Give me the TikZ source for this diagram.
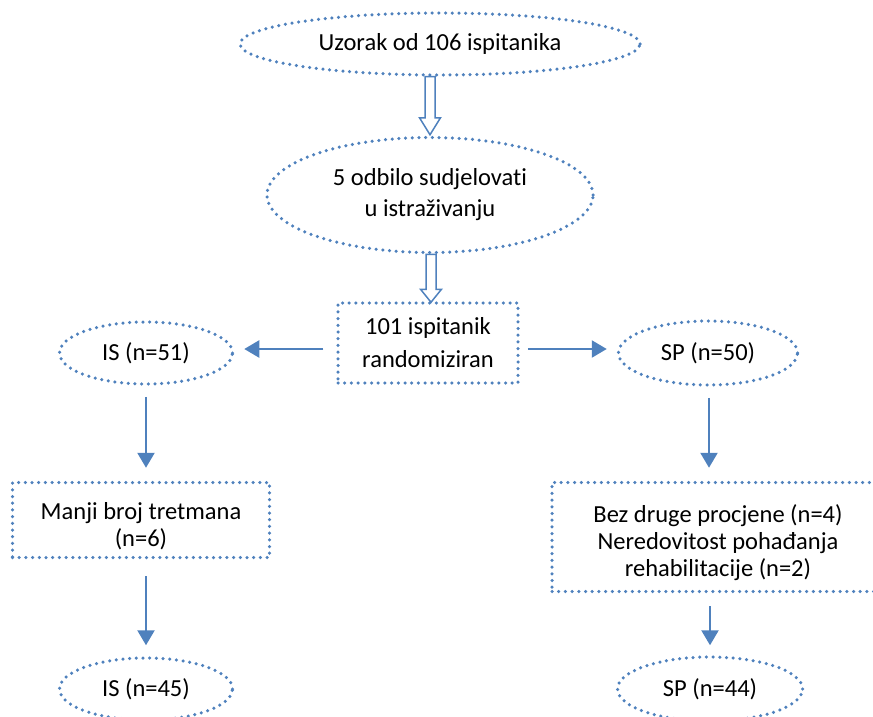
\documentclass[tikz,border=0pt]{standalone}
\usepackage{fontspec}
\setmainfont{Carlito}[Ligatures=NoCommon]
\usetikzlibrary{shapes.geometric,calc,arrows.meta}
\definecolor{ob}{HTML}{4F81BD}
\begin{document}
\begin{tikzpicture}[x=1pt,y=-1pt,
  dots/.style={draw=ob,line width=3.5pt,dash pattern=on 0pt off 6.7pt,line cap=round,text=black,inner sep=0pt,align=center,font=\fontsize{24.5}{31}\selectfont},
  ell/.style={dots,ellipse},
  box/.style={dots,rectangle},
  arr/.style={draw=ob,line width=2.4pt,-{Triangle[length=15pt,width=17pt]}},
  hollow/.style={draw=ob,line width=1.5pt,fill=white,line join=miter}]
\clip (0,0) rectangle (873,717);
\node[ell,minimum width=400,minimum height=62] (u) at (440,44) {Uzorak od 106 ispitanika};
\node[ell,minimum width=326,minimum height=115] (o) at (430,195) {5 odbilo sudjelovati\\u istraživanju};
\node[box,minimum width=180,minimum height=80,font=\fontsize{24.5}{33}\selectfont] (r) at (428,343) {101 ispitanik\\randomiziran};
\node[ell,minimum width=173,minimum height=62] (is1) at (146,353) {IS (n=51)};
\node[ell,minimum width=179,minimum height=64] (sp1) at (708,353) {SP (n=50)};
\node[box,minimum width=257,minimum height=75,font=\fontsize{24.5}{27}\selectfont] (m) at (141,520) {\rule{0pt}{29pt}Manji broj tretmana\\(n=6)};
\node[box,minimum width=332,minimum height=109,font=\fontsize{24.5}{27}\selectfont] (b) at (718,537) {\rule{0pt}{29pt}Bez druge procjene (n=4)\\Neredovitost pohađanja\\rehabilitacije (n=2)};
\node[ell,minimum width=173,minimum height=62] (is2) at (146,689) {IS (n=45)};
\node[ell,minimum width=185,minimum height=64] (sp2) at (710,689) {SP (n=44)};
% hollow arrows
\coordinate (ha) at (o.north |- u.south);
\coordinate (hb) at ([yshift=1pt]o.north);
\draw[hollow] ($(ha)+(-5,0)$) -- ($(hb)+(-5,-17)$) -- ($(hb)+(-10.5,-17)$) -- (hb) -- ($(hb)+(10.5,-17)$) -- ($(hb)+(5,-17)$) -- ($(ha)+(5,0)$) -- cycle;
\coordinate (hc) at ([xshift=1pt]o.south);
\coordinate (hd) at ([yshift=-1pt]hc |- r.north);
\draw[hollow] ($(hc)+(-5,0)$) -- ($(hd)+(-5,-13)$) -- ($(hd)+(-10.5,-13)$) -- (hd) -- ($(hd)+(10.5,-13)$) -- ($(hd)+(5,-13)$) -- ($(hc)+(5,0)$) -- cycle;
% solid arrows
\coordinate (hl) at ([yshift=-6pt]r.west);
\draw[arr,shorten <=13pt,shorten >=10pt] (hl) -- (hl -| is1.east);
\coordinate (hr) at ([yshift=-6pt]r.east);
\draw[arr,shorten <=8pt,shorten >=10pt] (hr) -- (hr -| sp1.west);
\draw[arr,shorten <=11pt,shorten >=13pt] (is1.south) -- (is1.south |- m.north);
\coordinate (ms) at (m.south -| is2.north);
\draw[arr,shorten <=17pt,shorten >=11pt] (ms) -- (is2.north);
\coordinate (ss) at ([xshift=1pt]sp1.south);
\draw[arr,shorten <=11pt,shorten >=13pt] (ss) -- (ss |- b.north);
\coordinate (bs) at (b.south -| sp2.north);
\draw[arr,shorten <=13pt,shorten >=10pt] (bs) -- (sp2.north);
\end{tikzpicture}
\end{document}
